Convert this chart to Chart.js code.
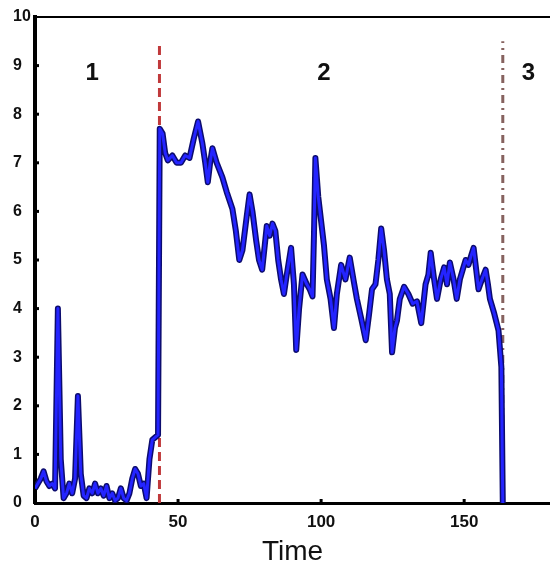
<!DOCTYPE html>
<html>
<head>
<meta charset="utf-8">
<script src="https://cdn.jsdelivr.net/npm/chart.js@4"></script>
<style>
  html, body { margin: 0; padding: 0; background: #fff; }
  #wrap { width: 550px; height: 572px; }
</style>
</head>
<body>
<div id="wrap"><canvas id="timeChart" width="550" height="572"></canvas></div>
<script>
// --- data ---
const timeValues = [
  0, 1, 2, 3, 4, 5, 6, 7, 8, 9, 10, 11, 12, 13, 14, 15, 16, 17, 18, 19, 20,
  21, 22, 23, 24, 25, 26, 27, 28, 29, 30, 31, 32, 33, 34, 35, 36, 37, 38, 39,
  40, 41, 42, 43, 43.6, 44.6, 45.5, 46.4, 48, 49.5, 51, 52.5, 54, 55.5, 57,
  58.5, 59.5, 60.4, 61.2, 62, 63.5, 65.5, 67, 69, 70.2, 71.4, 72.5, 74, 75,
  76, 77.3, 78.3, 79.4, 80.3, 81, 82, 83, 84, 85, 86, 87, 88, 89.5, 90.5,
  91.3, 92.3, 93.5, 95, 96, 97, 97.5, 98, 99, 100, 101, 102, 103.3, 104.5,
  105.5, 107, 108.5, 110, 111.3, 112.5, 114, 115.6, 116.8, 117.8, 119, 120,
  121, 122, 123, 124, 124.8, 125.8, 126.5, 127.5, 129, 130.5, 132, 133.5,
  135, 136.5, 137.5, 138.3, 139.5, 140.5, 141.8, 143, 144, 145, 146.3,
  147.4, 148.5, 149.5, 150.5, 151.5, 152.5, 153.3, 154.2, 155, 156.2, 157.5,
  158.3, 159, 160.5, 162, 163, 163.5
];
const signalValues = [
  0.3, 0.4, 0.5, 0.65, 0.45, 0.35, 0.4, 0.3, 4.0, 0.9, 0.1, 0.2, 0.4, 0.2, 0.5, 2.2, 0.6, 0.15, 0.1, 0.3, 0.2,
  0.4, 0.2, 0.3, 0.15, 0.35, 0.1, 0.2, 0.05, 0.1, 0.3, 0.1, 0.05, 0.2, 0.5, 0.7, 0.6, 0.35, 0.4, 0.1,
  0.9, 1.3, 1.35, 1.4, 7.7, 7.6, 7.2, 7.05, 7.15, 7.0, 7.0, 7.15, 7.1, 7.5, 7.85,
  7.4, 7.0, 6.6, 7.0, 7.3, 7.0, 6.7, 6.4, 6.05, 5.6, 5.0, 5.2, 5.9, 6.35,
  6.0, 5.4, 5.0, 4.8, 5.3, 5.7, 5.5, 5.75, 5.6, 5.0, 4.6, 4.3, 4.7, 5.25, 4.5,
  3.15, 4.0, 4.7, 4.5, 4.4, 4.25, 5.5, 7.1, 6.3, 5.8, 5.3, 4.6, 4.2, 3.6,
  4.3, 4.9, 4.6, 5.05, 4.6, 4.2, 3.8, 3.35, 3.9, 4.4, 4.5, 5.0,
  5.65, 5.2, 4.6, 4.3, 3.1, 3.6, 3.75, 4.2, 4.45, 4.3, 4.1, 4.15,
  3.7, 4.5, 4.7, 5.15, 4.6, 4.2, 4.6, 4.85, 4.5, 4.95, 4.6,
  4.2, 4.6, 4.8, 5.0, 4.9, 5.1, 5.25, 4.8, 4.4, 4.6, 4.8,
  4.5, 4.2, 3.9, 3.55, 2.8, 0
];
const phaseBoundaries = [43.5, 163.5];
const boundaryTop = 9.5;
const phaseLabels = ['1', '2', '3'];
const phaseLabelTimes = [20, 101, 172.5];
const phaseLabelLevel = 8.85;
const xTickValues = [0, 50, 100, 150];
const yTickValues = [0, 1, 2, 3, 4, 5, 6, 7, 8, 9, 10];

const signalPoints = timeValues.map((t, i) => ({ x: t, y: signalValues[i] }));
const boundaryLine = (t) => [{ x: t, y: 0 }, { x: t, y: boundaryTop }];
const FONT = '"Liberation Sans", Arial, sans-serif';

// phase numbers, top border and inward tick marks
const decorPlugin = {
  id: 'decor',
  afterDraw(chart) {
    const { ctx, chartArea, scales } = chart;
    ctx.save();
    ctx.strokeStyle = '#000';
    ctx.lineWidth = 2;
    ctx.beginPath();
    ctx.moveTo(chartArea.left, chartArea.top);
    ctx.lineTo(chartArea.right, chartArea.top);
    ctx.stroke();

    ctx.lineWidth = 3;
    yTickValues.slice(1, -1).forEach(v => {
      const py = scales.y.getPixelForValue(v);
      ctx.beginPath();
      ctx.moveTo(chartArea.left, py);
      ctx.lineTo(chartArea.left + 4, py);
      ctx.stroke();
    });
    xTickValues.slice(1).forEach(v => {
      const px = scales.x.getPixelForValue(v);
      ctx.beginPath();
      ctx.moveTo(px, chartArea.bottom);
      ctx.lineTo(px, chartArea.bottom - 4);
      ctx.stroke();
    });

    ctx.fillStyle = '#111';
    ctx.font = 'bold 24px ' + FONT;
    ctx.textAlign = 'center';
    ctx.textBaseline = 'middle';
    phaseLabels.forEach((lbl, i) => {
      ctx.fillText(lbl, scales.x.getPixelForValue(phaseLabelTimes[i]), scales.y.getPixelForValue(phaseLabelLevel));
    });
    ctx.restore();
  }
};

new Chart(document.getElementById('timeChart'), {
  type: 'line',
  data: {
    datasets: [
      {
        data: signalPoints,
        borderColor: '#0c0c6e',
        borderWidth: 6,
        pointRadius: 0,
        tension: 0,
        borderJoinStyle: 'round',
        order: 2
      },
      {
        data: signalPoints,
        borderColor: '#2424ff',
        borderWidth: 3,
        pointRadius: 0,
        tension: 0,
        borderJoinStyle: 'round',
        order: 1
      },
      {
        data: boundaryLine(phaseBoundaries[0]),
        borderColor: '#c0393b',
        borderWidth: 3,
        borderDash: [9, 5],
        pointRadius: 0,
        order: 3
      },
      {
        data: boundaryLine(phaseBoundaries[1]),
        borderColor: '#86625f',
        borderWidth: 3,
        borderDash: [8, 5, 2, 5],
        pointRadius: 0,
        order: 3
      }
    ]
  },
  options: {
    responsive: false,
    animation: false,
    layout: { padding: { top: 17, left: 13, right: 0, bottom: 0 } },
    plugins: { legend: { display: false }, tooltip: { enabled: false } },
    scales: {
      x: {
        type: 'linear',
        min: 0,
        max: 180,
        afterBuildTicks: s => { s.ticks = xTickValues.map(v => ({ value: v })); },
        afterFit: s => { s.height = 69; },
        grid: { display: false, drawTicks: false },
        border: { display: true, color: '#000', width: 3 },
        ticks: { color: '#111', padding: 9, font: { size: 17, weight: 'bold', family: FONT } },
        title: {
          display: true,
          text: 'Time',
          color: '#111',
          padding: { top: 0, bottom: 3 },
          font: { size: 28, family: FONT }
        }
      },
      y: {
        min: 0,
        max: 10,
        afterBuildTicks: s => { s.ticks = yTickValues.map(v => ({ value: v })); },
        afterFit: s => { s.width = 22; },
        grid: { display: false, drawTicks: false },
        border: { display: true, color: '#000', width: 4 },
        ticks: {
          color: '#111',
          crossAlign: 'far',
          padding: 4,
          font: { size: 16, weight: 'bold', family: FONT }
        }
      }
    }
  },
  plugins: [decorPlugin]
});
</script>
</body>
</html>
